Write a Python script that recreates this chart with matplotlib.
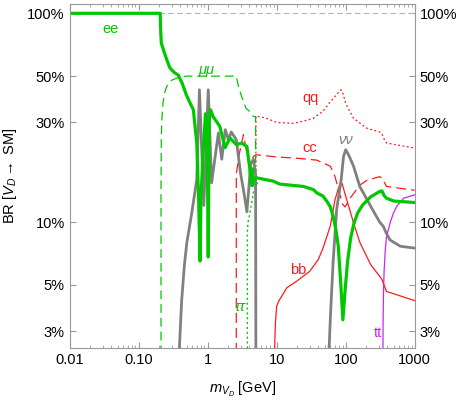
import numpy as np
import matplotlib.pyplot as plt
from matplotlib.ticker import FixedLocator, FixedFormatter, LogLocator, NullFormatter

plt.rcParams['font.family'] = ['Liberation Sans', 'DejaVu Sans']
plt.rcParams['mathtext.fontset'] = 'custom'
plt.rcParams['mathtext.rm'] = 'Liberation Sans'
plt.rcParams['mathtext.it'] = 'Liberation Sans:italic'

# V_D mass [GeV] and branching ratio (fraction)
ee_m = [0.01, 0.205, 0.208, 0.213, 0.229, 0.26, 0.284, 0.33, 0.375, 0.43, 0.49, 0.56, 0.62,
        0.695, 0.74, 0.776, 0.80, 0.85, 0.93, 0.98, 1.02, 1.05, 1.1, 1.2, 1.5, 1.79, 2.1,
        2.6, 3.1, 3.7, 4.1, 4.3, 4.4, 4.5, 4.6, 5.0, 8.9, 11, 24.6, 34, 38, 47, 53, 60, 66,
        72, 78, 85, 91, 97, 106, 118, 132, 150, 177, 230, 310, 335, 360, 390, 500, 1000]
ee_br = [1.0, 1.0, 0.85, 0.72, 0.667, 0.59, 0.547, 0.52, 0.506, 0.46, 0.407, 0.37, 0.345,
         0.24, 0.128, 0.065, 0.13, 0.2, 0.33, 0.30, 0.068, 0.30, 0.345, 0.32, 0.287, 0.227,
         0.253, 0.235, 0.239, 0.23, 0.178, 0.15, 0.18, 0.15, 0.16, 0.163, 0.157, 0.152,
         0.148, 0.143, 0.138, 0.133, 0.126, 0.118, 0.106, 0.092, 0.077, 0.05, 0.034, 0.045,
         0.064, 0.084, 0.099, 0.111, 0.121, 0.132, 0.140, 0.141, 0.134, 0.130, 0.126, 0.124]

mumu_m = [0.211, 0.211, 0.213, 0.217, 0.225, 0.24, 0.255, 0.3, 0.375, 0.5, 1.0, 2.0, 2.6,
          2.8, 3.1, 3.6, 4.1, 4.6, 4.95, 4.95]
mumu_br = [0.02, 0.15, 0.25, 0.31, 0.37, 0.42, 0.446, 0.478, 0.492, 0.5, 0.5, 0.5, 0.5,
           0.445, 0.40, 0.35, 0.338, 0.32, 0.32, 0.02]

tautau_m = [3.76, 3.76, 3.85, 4.1, 4.6, 4.97, 5.5]
tautau_br = [0.02, 0.09, 0.1, 0.111, 0.138, 0.148, 0.158]

had_m = [0.377, 0.40, 0.42, 0.46, 0.50, 0.59, 0.695, 0.76, 0.88, 1.02, 1.14, 1.43, 1.6,
         1.8, 2.0, 2.2, 2.6, 3.0, 3.3, 3.7, 3.9, 4.2, 4.6, 4.95, 5.0]
had_br = [0.02, 0.03, 0.042, 0.062, 0.080, 0.111, 0.16, 0.43, 0.12, 0.43, 0.154, 0.267,
          0.2, 0.277, 0.248, 0.27, 0.248, 0.171, 0.143, 0.112, 0.138, 0.19, 0.2, 0.17, 0.02]

nunu_m = [56, 60, 66, 74, 86, 93, 100, 110, 130, 160, 230, 310, 350, 390, 440, 620, 1000]
nunu_br = [0.02, 0.035, 0.066, 0.115, 0.16, 0.206, 0.222, 0.21, 0.185, 0.148, 0.119, 0.1,
           0.0955, 0.088, 0.082, 0.0765, 0.075]

qq_m = [5.0, 5.0, 7, 10, 17.6, 25, 34, 47, 60, 75, 82, 86, 92, 100, 130, 200, 310, 330,
        360, 390, 1000]
qq_br = [0.02, 0.322, 0.315, 0.30, 0.297, 0.305, 0.314, 0.34, 0.377, 0.41, 0.425, 0.43,
         0.41, 0.37, 0.314, 0.282, 0.27, 0.267, 0.25, 0.239, 0.226]

cc_m = [2.6, 2.6, 2.9, 3.3, 3.7, 4.1, 4.6, 5.0, 10, 20, 38, 60, 70, 80, 90, 98, 116, 160,
        200, 310, 340, 390, 1000]
cc_br = [0.02, 0.17, 0.215, 0.262, 0.215, 0.19, 0.206, 0.21, 0.205, 0.202, 0.198, 0.185,
         0.165, 0.14, 0.122, 0.118, 0.13, 0.15, 0.158, 0.165, 0.162, 0.148, 0.142]

bb_m = [9.3, 9.4, 9.6, 10.0, 10.8, 11.9, 14, 19.4, 30, 40, 47, 60, 70, 80, 88, 100, 130,
        160, 230, 310, 335, 390, 1000]
bb_br = [0.02, 0.027, 0.033, 0.0395, 0.042, 0.0442, 0.0484, 0.052, 0.058, 0.066, 0.075,
         0.096, 0.128, 0.148, 0.154, 0.133, 0.099, 0.08, 0.0625, 0.055, 0.053, 0.0465, 0.042]

tt_m = [346, 348, 352, 360, 375, 390, 440, 490, 550, 690, 1000]
tt_br = [0.02, 0.032, 0.045, 0.058, 0.074, 0.085, 0.099, 0.11, 0.119, 0.13, 0.135]

green = '#00c800'
red = '#ff1a1a'
grey = '#808080'
purple = '#cc22ff'

fig = plt.figure(figsize=(4.58, 4.01), dpi=100)
ax = fig.add_axes([0.152, 0.133, 0.7535, 0.857])

ax.axhline(1.0, color='#b4b4b4', lw=0.8, ls=(0, (5, 3)))

ax.plot(tt_m, tt_br, color=purple, lw=0.9)
ax.plot(bb_m, bb_br, color=red, lw=0.9)
ax.plot(cc_m, cc_br, color=red, lw=0.9, ls=(0, (8, 4)))
ax.plot(qq_m, qq_br, color=red, lw=0.9, ls=(0, (1.5, 2)))
ax.plot(mumu_m, mumu_br, color=green, lw=0.9, ls=(0, (7, 4)))
ax.plot(tautau_m, tautau_br, color=green, lw=1.0, ls=(0, (1.5, 2)))
ax.plot(had_m, had_br, color=grey, lw=2.0)
ax.plot(nunu_m, nunu_br, color=grey, lw=2.0)
ax.plot(ee_m, ee_br, color=green, lw=2.3)

ax.set_xscale('log')
ax.set_yscale('log')
ax.set_xlim(0.01, 1000)
ax.set_ylim(0.025, 1.108)

ax.xaxis.set_major_locator(FixedLocator([0.01, 0.1, 1, 10, 100, 1000]))
ax.xaxis.set_major_formatter(FixedFormatter(['0.01', '0.10', '1', '10', '100', '1000']))
ax.xaxis.set_minor_locator(LogLocator(base=10, subs=np.arange(2, 10)))
ax.xaxis.set_minor_formatter(NullFormatter())
ax.yaxis.set_major_locator(FixedLocator([0.03, 0.05, 0.1, 0.3, 0.5, 1.0]))
ax.yaxis.set_major_formatter(FixedFormatter(['3%', '5%', '10%', '30%', '50%', '100%']))
ax.yaxis.set_minor_locator(FixedLocator([]))

ax.tick_params(which='both', direction='in', top=True, right=True, labelright=True,
               color='#999999', labelsize=10.5)
ax.tick_params(which='major', length=4)
ax.tick_params(which='minor', length=2)
for s in ax.spines.values():
    s.set_color('#999999')

ax.set_xlabel(r'$m_{V_D}$ [GeV]', fontsize=10.5, labelpad=10)
ax.set_ylabel(r'BR [$V_D \rightarrow$ SM]', fontsize=10.5, labelpad=6)

ax.text(0.0386, 0.84, 'ee', color=green, fontsize=10.5, ha='center', va='center')
ax.text(0.97, 0.535, 'μμ', color=green, fontsize=10.5, ha='center', va='center', style='italic')
ax.text(2.95, 0.0393, 'ττ', color=green, fontsize=10.5, ha='center', va='center', style='italic')
ax.text(30.4, 0.392, 'qq', color=red, fontsize=10.5, ha='center', va='center')
ax.text(30.4, 0.226, 'cc', color=red, fontsize=10.5, ha='center', va='center')
ax.text(20.6, 0.059, 'bb', color=red, fontsize=10.5, ha='center', va='center')
ax.text(100, 0.248, 'νν', color=grey, fontsize=10.5, ha='center', va='center', style='italic')
ax.text(297, 0.0294, 'tt', color=purple, fontsize=10.5, ha='center', va='center')

fig.savefig('out.png', dpi=100)
